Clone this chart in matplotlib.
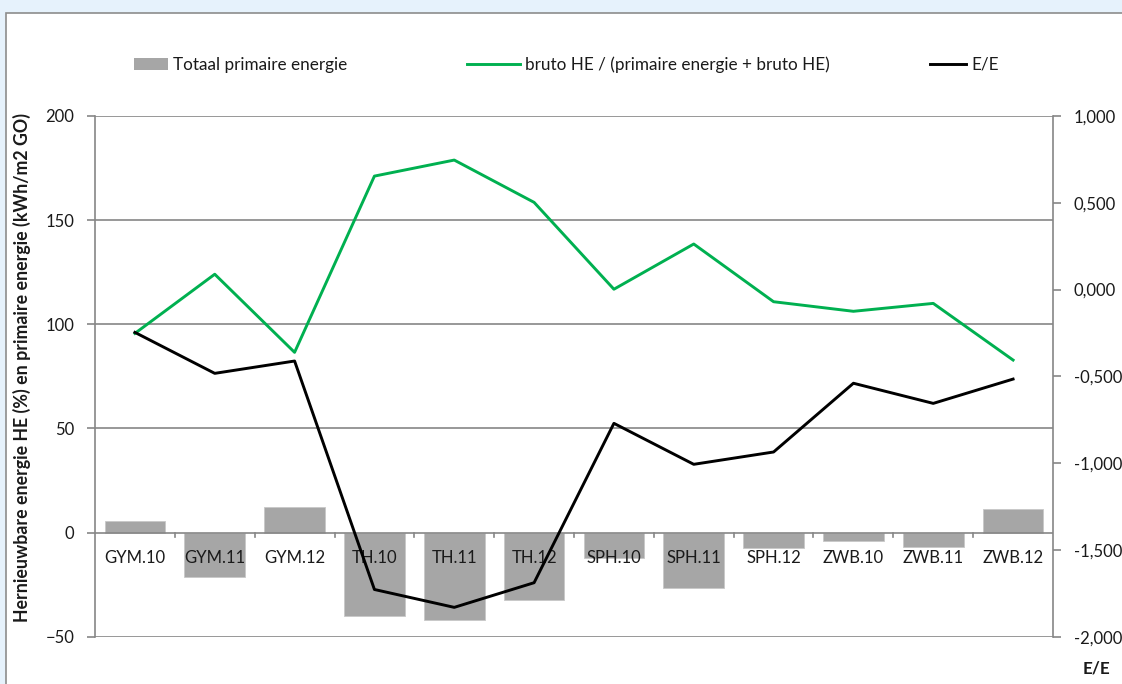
import matplotlib.pyplot as plt
from matplotlib.patches import Patch, Rectangle
from matplotlib.lines import Line2D
from matplotlib.ticker import FuncFormatter

plt.rcParams['font.family'] = ['Lato', 'DejaVu Sans']

# data
categories = ['GYM.10', 'GYM.11', 'GYM.12', 'TH.10', 'TH.11', 'TH.12',
              'SPH.10', 'SPH.11', 'SPH.12', 'ZWB.10', 'ZWB.11', 'ZWB.12']
primaire_energie = [5.5, -21.4, 12.1, -39.9, -41.8, -32.6,
                    -12.1, -26.6, -7.6, -4.2, -6.8, 11.3]
bruto_he_ratio = [95.6, 124.0, 86.5, 171.1, 178.8, 158.5,
                  116.8, 138.5, 110.8, 106.2, 110.0, 82.8]
e_e = [-0.247, -0.483, -0.412, -1.728, -1.831, -1.689,
       -0.771, -1.007, -0.936, -0.540, -0.656, -0.516]

left_ticks = [-50, 0, 50, 100, 150, 200]
right_ticks = [-2.0, -1.5, -1.0, -0.5, 0.0, 0.5, 1.0]

W, H = 1122, 684
fs = 12.3
fig = plt.figure(figsize=(W / 100, H / 100), dpi=100)
fig.patch.set_facecolor('#E6F2FC')

# chart area frame (cut off at right and bottom like the screenshot)
fig.add_artist(Rectangle((6 / W, -0.1), 1.2, 1 - 13 / H + 0.1, transform=fig.transFigure,
                         facecolor='white', edgecolor='#8C8C8C', linewidth=1.2, zorder=0))

grid_c = '#868686'
x0, x1, ytop, ybot = 95, 1053, 115.9, 636.7
ax = fig.add_axes([x0 / W, 1 - ybot / H, (x1 - x0) / W, (ybot - ytop) / H])
ax.set_facecolor('none')
ax2 = ax.twinx()

xs = range(len(categories))
ax.bar(xs, primaire_energie, width=0.76, color='#A6A6A6', edgecolor='#C8C8C8',
       linewidth=0.6, zorder=2)
ax.plot(xs, bruto_he_ratio, color='#00B050', linewidth=2.1, zorder=3)
ax2.plot(xs, e_e, color='black', linewidth=2.1, zorder=3)

ax.set_xlim(-0.5, len(categories) - 0.5)
ax.set_ylim(-50, 200)
ax2.set_ylim(-2.0, 1.0)
ax.set_yticks(left_ticks)
ax2.set_yticks(right_ticks)
ax2.yaxis.set_major_formatter(FuncFormatter(lambda v, p: f'{v:.3f}'.replace('.', ',')))

for v in [-50, 50, 100, 150, 200]:
    ax.axhline(v, color=grid_c, linewidth=1.2, zorder=1)
ax.axhline(0, color=grid_c, linewidth=1.2, zorder=2.5)

# category labels just below the zero line, ticks between categories
ax.set_xticks([])
for i, c in enumerate(categories):
    ax.text(i, -12.3, c, ha='center', va='center', fontsize=fs - 0.3, color='#1a1a1a', zorder=4)
for i in range(1, len(categories)):
    ax.plot([i - 0.5, i - 0.5], [0, -2.2], color=grid_c, linewidth=1.2, zorder=2.5,
            clip_on=False)

for a in (ax, ax2):
    for s in ['top', 'bottom']:
        a.spines[s].set_visible(False)
    a.tick_params(axis='y', length=6, width=1.2, color=grid_c, labelsize=fs - 0.3,
                  labelcolor='#1a1a1a', pad=9)
ax.spines['left'].set_color(grid_c)
ax.spines['left'].set_linewidth(1.2)
ax.spines['right'].set_visible(False)
ax2.spines['left'].set_visible(False)
ax2.spines['right'].set_color(grid_c)
ax2.spines['right'].set_linewidth(1.2)

fig.text(22 / W, 1 - 368 / H, 'Hernieuwbare energie HE (%) en primaire energie (kWh/m2 GO)',
         rotation=90, ha='center', va='center', fontsize=fs + 0.5, fontweight='bold',
         color='#1a1a1a')
fig.text(1097 / W, 1 - 668 / H, 'E/E', ha='center', va='center', fontsize=fs,
         fontweight='bold', color='#1a1a1a')

# legend entries
entries = [
    (134, Patch(facecolor='#A6A6A6', edgecolor='none'), 'Totaal primaire energie', 2.0),
    (467, Line2D([], [], color='#00B050', linewidth=2.1), 'bruto HE / (primaire energie + bruto HE)', 3.1),
    (930, Line2D([], [], color='black', linewidth=2.1), 'E/E', 2.1),
]
for xpix, h, lab, hl in entries:
    fig.legend([h], [lab], loc='center left', bbox_to_anchor=(xpix / W, 1 - 65 / H),
               frameon=False, fontsize=fs, handlelength=hl, handleheight=0.7,
               handletextpad=0.3, borderpad=0, borderaxespad=0, labelcolor='#1a1a1a')

fig.savefig('out.png', dpi=100, facecolor=fig.get_facecolor())
